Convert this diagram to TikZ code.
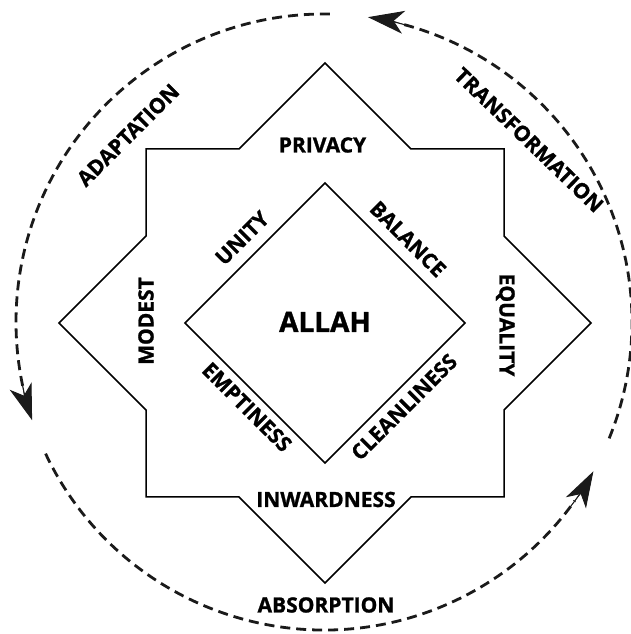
\documentclass[tikz,border=0pt]{standalone}
\usepackage{fontspec}
\setmainfont{Open Sans}[BoldFeatures={FakeBold=1.2}]
\usetikzlibrary{arrows.meta}
\definecolor{ink}{HTML}{1A1A1A}
\begin{document}
\begin{tikzpicture}[x=1pt,y=1pt,
  lab/.style={font=\fontsize{21}{24}\selectfont\bfseries, inner sep=0pt, text height=15pt, text depth=0pt},
  biglab/.style={font=\fontsize{28}{32}\selectfont\bfseries, inner sep=0pt, text height=20pt, text depth=0pt},
  ring/.style={draw=ink, line width=2.8pt, dash pattern=on 10pt off 6pt},
  ringtip/.style={draw=ink, fill=ink, solid, line width=1pt,
    -{Stealth[length=36pt,width=23pt,inset=10pt]}},
  outline/.style={line width=1.5pt, line join=miter}]
\useasboundingbox (0,0) rectangle (631,634);
% centres
\coordinate (C) at (325,311);
\coordinate (O) at (324,312);
% inner diamond
\coordinate (d1) at (325,451);
\coordinate (d2) at (465,311);
\coordinate (d3) at (325,171);
\coordinate (d4) at (185,311);
\draw[outline] (d1) -- (d2) -- (d3) -- (d4) -- cycle;
% star outline
\coordinate (s1) at (325,571);
\coordinate (s2) at (411,485);
\coordinate (s3) at (504,485);
\coordinate (s4) at (504,398);
\coordinate (s5) at (591,311);
\coordinate (s6) at (504,224);
\coordinate (s7) at (504,137);
\coordinate (s8) at (411,137);
\coordinate (s9) at (325,51);
\coordinate (s10) at (239,137);
\coordinate (s11) at (146,137);
\coordinate (s12) at (146,224);
\coordinate (s13) at (59,311);
\coordinate (s14) at (146,398);
\coordinate (s15) at (146,485);
\coordinate (s16) at (239,485);
\draw[outline] (s1) -- (s2) -- (s3) -- (s4) -- (s5) -- (s6) -- (s7) -- (s8) -- (s9)
  -- (s10) -- (s11) -- (s12) -- (s13) -- (s14) -- (s15) -- (s16) -- cycle;
% dashed ring
\coordinate (a1) at ([shift={(88.9:308)}]O);
\coordinate (a2) at ([shift={(205.3:308)}]O);
\coordinate (a3) at ([shift={(337.8:308)}]O);
\draw[ring] (a1) arc[start angle=88.9, end angle=192, radius=308];
\draw[ring] (a2) arc[start angle=205.3, end angle=324.5, radius=308];
\draw[ring] (a3) arc[start angle=337.8, end angle=435.3, radius=308];
% solid arrow heads at the ends of the arcs
\coordinate (t1) at ([shift={(190.6:308)}]O);
\coordinate (t2) at ([shift={(323:308)}]O);
\coordinate (t3) at ([shift={(433.8:308)}]O);
\draw[ringtip] (t1) arc[start angle=190.6, end angle=198.6, radius=308];
\draw[ringtip] (t2) arc[start angle=323, end angle=331, radius=308];
\draw[ringtip] (t3) arc[start angle=433.8, end angle=441.8, radius=308];
% labels
\node[biglab] (allah) at (325,312) {ALLAH};
\node[lab] (privacy) at (322.5,489) {PRIVACY};
\node[lab] (inward) at (326,134.5) {INWARDNESS};
\node[lab] (absorb) at (326,29) {ABSORPTION};
\node[lab, rotate=90] (modest) at (146,313) {MODEST};
\node[lab, rotate=-90] (equal) at (507,309) {EQUALITY};
\node[lab, rotate=45] (unity) at (242,396) {UNITY};
\node[lab, rotate=-45] (balance) at (408,395) {BALANCE};
\node[lab, rotate=-45] (empty) at (247,227) {EMPTINESS};
\node[lab, rotate=45] (clean) at (404,227) {CLEANLINESS};
\node[lab, rotate=45] (adapt) at (128,499) {ADAPTATION};
\node[lab, rotate=-44] (transf) at (529,494) {TRANSFORMATION};
\end{tikzpicture}
\end{document}
